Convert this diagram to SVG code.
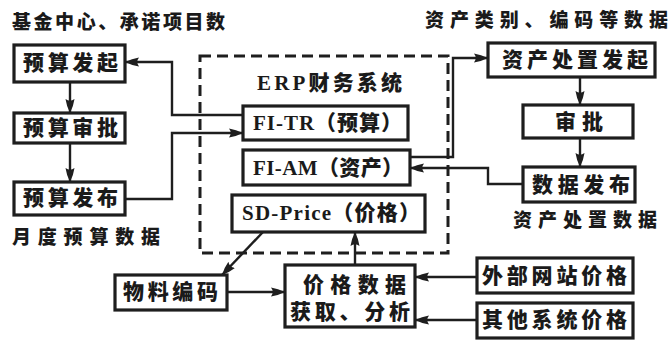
<svg xmlns="http://www.w3.org/2000/svg" width="671" height="342" viewBox="0 0 671 342">
  <style>
    .box { fill: #fff; stroke: #1e1e1e; stroke-width: 3.2; }
    .frame { fill: none; stroke: #1e1e1e; stroke-width: 3; stroke-dasharray: 11 6; }
    .wire { fill: none; stroke: #1e1e1e; stroke-width: 2.4; marker-end: url(#arrow); }
    .t { font-family: "Liberation Serif", "Noto Sans CJK SC", serif; font-weight: 900; font-size: 21px; fill: #1a1a1a; dominant-baseline: central; }
    .note { font-size: 19px; }
  </style>
  <defs>
    <marker id="arrow" markerUnits="userSpaceOnUse" markerWidth="16" markerHeight="12" refX="14" refY="6" orient="auto">
      <path d="M0,1.5 Q7,2.5 14,6 Q7,9.5 0,10.5 Q3.5,6 0,1.5 z" fill="#1e1e1e"/>
    </marker>
  </defs>
  <rect width="671" height="342" fill="#fff"/>

  <!-- ERP system frame -->
  <g id="erp-frame">
    <rect class="frame" x="200" y="56" width="248" height="197"/>
    <text class="t" x="257" y="83" textLength="145" lengthAdjust="spacing">ERP财务系统</text>
  </g>

  <!-- free labels -->
  <g id="labels">
    <text class="t note" x="12" y="22" textLength="213" lengthAdjust="spacing">基金中心、承诺项目数</text>
    <text class="t note" x="12" y="237" textLength="148" lengthAdjust="spacing">月度预算数据</text>
    <text class="t note" x="425" y="20" textLength="243" lengthAdjust="spacing">资产类别、编码等数据</text>
    <text class="t note" x="513" y="220" textLength="144" lengthAdjust="spacing">资产处置数据</text>
  </g>

  <!-- connectors -->
  <g id="connectors">
    <path class="wire" d="M243,115 H172 V62 H125"/>
    <path class="wire" d="M125,199 H172 V133 H243"/>
    <path class="wire" d="M70,82 V113"/>
    <path class="wire" d="M70,143 V182"/>
    <path class="wire" d="M410,157 H453 V58 H488"/>
    <path class="wire" d="M523,184 H488 V168 H410"/>
    <path class="wire" d="M580,77 V105"/>
    <path class="wire" d="M580,138 V167"/>
    <path class="wire" d="M263,232 L222,275"/>
    <path class="wire" d="M227,292 H285"/>
    <path class="wire" d="M355,265 V232"/>
    <path class="wire" d="M477,277 H415"/>
    <path class="wire" d="M477,320 H415"/>
  </g>

  <g id="budget-start">
    <rect class="box" x="14" y="45" width="111" height="37"/>
    <text class="t" x="23" y="63" textLength="95" lengthAdjust="spacing">预算发起</text>
  </g>
  <g id="budget-review">
    <rect class="box" x="14" y="113" width="111" height="30"/>
    <text class="t" x="23" y="128" textLength="95" lengthAdjust="spacing">预算审批</text>
  </g>
  <g id="budget-release">
    <rect class="box" x="14" y="182" width="111" height="33"/>
    <text class="t" x="23" y="198" textLength="95" lengthAdjust="spacing">预算发布</text>
  </g>

  <g id="fi-tr">
    <rect class="box" x="243" y="106" width="165" height="34"/>
    <text class="t" x="253" y="123" textLength="149" lengthAdjust="spacing">FI-TR（预算）</text>
  </g>
  <g id="fi-am">
    <rect class="box" x="243" y="150" width="167" height="35"/>
    <text class="t" x="253" y="168" textLength="150" lengthAdjust="spacing">FI-AM（资产）</text>
  </g>
  <g id="sd-price">
    <rect class="box" x="232" y="195" width="193" height="37"/>
    <text class="t" x="242" y="213" textLength="178" lengthAdjust="spacing">SD-Price（价格）</text>
  </g>

  <g id="asset-start">
    <rect class="box" x="488" y="43" width="167" height="34"/>
    <text class="t" x="502" y="60" textLength="146" lengthAdjust="spacing">资产处置发起</text>
  </g>
  <g id="asset-review">
    <rect class="box" x="523" y="105" width="110" height="33"/>
    <text class="t" x="555" y="122" textLength="48" lengthAdjust="spacing">审批</text>
  </g>
  <g id="asset-release">
    <rect class="box" x="523" y="167" width="112" height="35"/>
    <text class="t" x="532" y="185" textLength="98" lengthAdjust="spacing">数据发布</text>
  </g>

  <g id="material-code">
    <rect class="box" x="115" y="275" width="112" height="35"/>
    <text class="t" x="123" y="292" textLength="95" lengthAdjust="spacing">物料编码</text>
  </g>
  <g id="price-analysis">
    <rect class="box" x="285" y="265" width="130" height="62"/>
    <text class="t" x="303" y="285" textLength="103" lengthAdjust="spacing">价格数据</text>
    <text class="t" x="290" y="312" textLength="120" lengthAdjust="spacing">获取、分析</text>
  </g>
  <g id="web-price">
    <rect class="box" x="477" y="258" width="156" height="35"/>
    <text class="t" x="482" y="276" textLength="145" lengthAdjust="spacing">外部网站价格</text>
  </g>
  <g id="other-price">
    <rect class="box" x="477" y="303" width="156" height="35"/>
    <text class="t" x="482" y="320" textLength="145" lengthAdjust="spacing">其他系统价格</text>
  </g>
</svg>
